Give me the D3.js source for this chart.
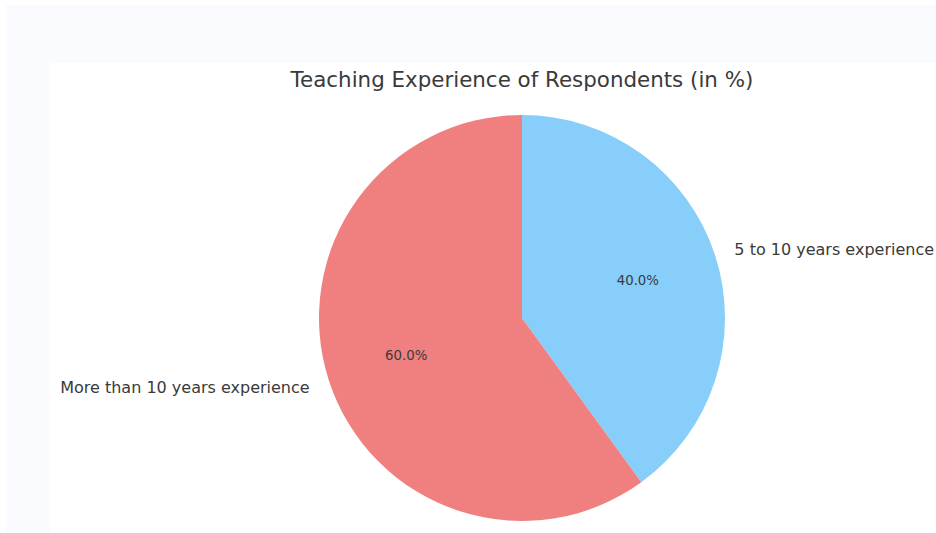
<!DOCTYPE html>
<html>
<head>
<meta charset="utf-8">
<script src="https://cdn.jsdelivr.net/npm/d3@7"></script>
<style>
  html, body { margin: 0; padding: 0; background: #fff; }
  svg { display: block; font-family: "DejaVu Sans", sans-serif; }
</style>
</head>
<body>
<svg id="chart" width="936" height="533"></svg>
<script>
// chart data
let categories = ["5 to 10 years experience", "More than 10 years experience"];
let values = [40, 60];
let colors = ["#87CEFA", "#F08080"];
let title = "Teaching Experience of Respondents (in %)";

let svg = d3.select("#chart");
let width = +svg.attr("width"),
    height = +svg.attr("height");

// page backdrop + white figure panel
svg.append("rect").attr("x", 6).attr("y", 5).attr("width", width - 6).attr("height", height - 5).attr("fill", "#f9fbfe");
svg.append("rect").attr("x", 50).attr("y", 63).attr("width", width - 50).attr("height", height - 63).attr("fill", "#ffffff");

let cx = 522, cy = 318, radius = 203;

let g = svg.append("g").attr("transform", "translate(" + cx + "," + cy + ")");

let pie = d3.pie().sort(null).value(function(d) { return d; });
let arcs = pie(values);

let arc = d3.arc().innerRadius(0).outerRadius(radius);
let labelArc = d3.arc().innerRadius(radius * 1.1).outerRadius(radius * 1.1);
let pctArc = d3.arc().innerRadius(radius * 0.6).outerRadius(radius * 0.6);

g.selectAll("path.slice")
    .data(arcs)
    .enter().append("path")
    .attr("class", "slice")
    .attr("fill", function(d, i) { return colors[i]; })
    .attr("d", arc);

let total = d3.sum(values);

g.selectAll("text.pct")
    .data(arcs)
    .enter().append("text")
    .attr("class", "pct")
    .attr("transform", function(d) { return "translate(" + pctArc.centroid(d) + ")"; })
    .attr("text-anchor", "middle")
    .attr("dy", "0.35em")
    .attr("font-size", 13.3)
    .attr("fill", "#3a3a3a")
    .text(function(d) { return (d.data / total * 100).toFixed(1) + "%"; });

g.selectAll("text.label")
    .data(arcs)
    .enter().append("text")
    .attr("class", "label")
    .attr("transform", function(d) { return "translate(" + labelArc.centroid(d) + ")"; })
    .attr("text-anchor", function(d) {
        let mid = (d.startAngle + d.endAngle) / 2;
        return mid < Math.PI ? "start" : "end";
    })
    .attr("dy", "0.35em")
    .attr("font-size", 16)
    .attr("fill", "#3a3a3a")
    .text(function(d, i) { return categories[i]; });

svg.append("text")
    .attr("x", cx)
    .attr("y", 80)
    .attr("dy", "0.35em")
    .attr("text-anchor", "middle")
    .attr("font-size", 21.4)
    .attr("fill", "#3a3a3a")
    .text(title);
</script>
</body>
</html>
